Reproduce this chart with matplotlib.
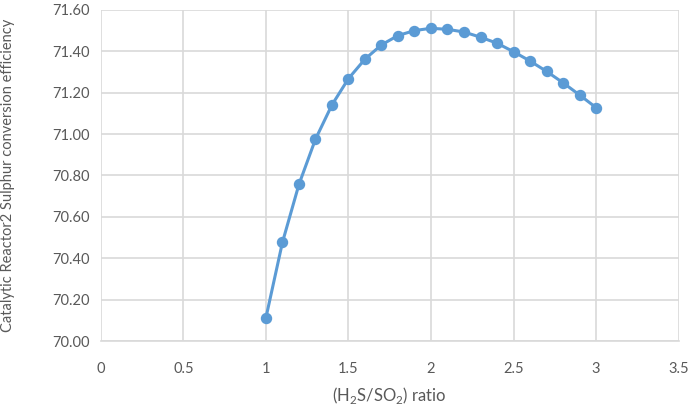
import matplotlib
matplotlib.use('Agg')
import matplotlib.pyplot as plt

plt.rcParams['font.family'] = ['Lato', 'DejaVu Sans']

ratio = [1.0, 1.1, 1.2, 1.3, 1.4, 1.5, 1.6, 1.7, 1.8, 1.9, 2.0,
         2.1, 2.2, 2.3, 2.4, 2.5, 2.6, 2.7, 2.8, 2.9, 3.0]
efficiency = [70.113, 70.477, 70.757, 70.975, 71.141, 71.268, 71.362, 71.431,
              71.476, 71.500, 71.511, 71.506, 71.493, 71.468, 71.439, 71.398,
              71.353, 71.303, 71.248, 71.189, 71.128]
x_ticks = [0, 0.5, 1, 1.5, 2, 2.5, 3, 3.5]
y_ticks = [70.0, 70.2, 70.4, 70.6, 70.8, 71.0, 71.2, 71.4, 71.6]

TEXT = '#595959'
GRID = '#d9d9d9'
LINE = '#5b9bd5'

fig = plt.figure(figsize=(6.91, 4.11), dpi=100)
ax = fig.add_axes([0.146, 0.170, 0.836, 0.806])

ax.plot(ratio, efficiency, color=LINE, linewidth=2.2, marker='o',
        markersize=7.2, markerfacecolor=LINE, markeredgecolor=LINE, zorder=3)

ax.set_xlim(0, 3.5)
ax.set_ylim(70.0, 71.6)
ax.set_xticks(x_ticks)
ax.set_xticklabels([f'{v:g}' for v in x_ticks])
ax.set_yticks(y_ticks)
ax.set_yticklabels([f'{v:.2f}' for v in y_ticks])

ax.grid(True, color=GRID, linewidth=1.2, zorder=0)
ax.set_axisbelow(True)
for s in ['top', 'right', 'left']:
    ax.spines[s].set_visible(False)
ax.spines['bottom'].set_color(GRID)
ax.spines['bottom'].set_linewidth(1.2)
ax.tick_params(length=0, colors=TEXT, labelsize=10.5)
ax.tick_params(axis='x', pad=15)
ax.tick_params(axis='y', pad=8)

ax.set_xlabel(r'(H$_\mathregular{2}$S/SO$_\mathregular{2}$) ratio', color=TEXT, fontsize=12)
ax.set_ylabel('Catalytic Reactor2 Sulphur conversion efficiency', color=TEXT, fontsize=10.5)
ax.xaxis.set_label_coords(0.5, -0.133)
ax.yaxis.set_label_coords(-0.148, 0.5)

fig.savefig('out.png', dpi=100)
